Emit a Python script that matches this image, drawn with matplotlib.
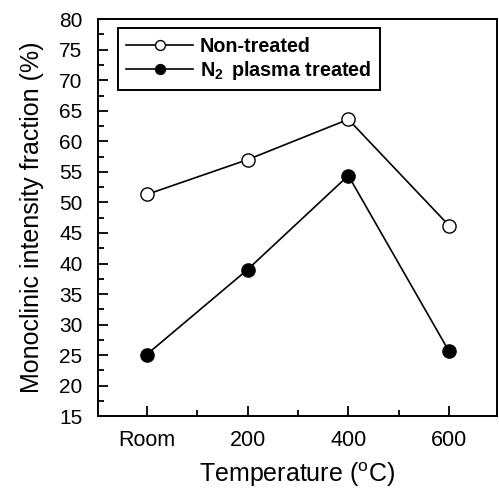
import matplotlib.pyplot as plt
from matplotlib.ticker import MultipleLocator

temps = [0, 200, 400, 600]
temp_labels = ["Room", "200", "400", "600"]

non_treated = [51.3, 57.0, 63.6, 46.2]
n2_treated = [25.1, 39.0, 54.4, 25.6]

plt.rcParams["font.family"] = ["Liberation Sans", "DejaVu Sans"]
plt.rcParams["mathtext.fontset"] = "custom"
plt.rcParams["mathtext.rm"] = "Liberation Sans"
plt.rcParams["mathtext.bf"] = "Liberation Sans:bold"

fig = plt.figure(figsize=(4.99, 4.92), dpi=100)
ax = fig.add_axes([0.196, 0.154, 0.8, 0.807])

ax.plot(temps, non_treated, "-o", color="black", mfc="white", mec="black",
        ms=9.5, lw=1.2, mew=1.0, label="Non-treated")
ax.plot(temps, n2_treated, "-o", color="black", mfc="black", mec="black",
        ms=9.5, lw=1.2, label="N$_\\mathbf{2}\\,$ plasma treated")

ax.set_xlim(-97, 695)
ax.set_ylim(15, 80)
ax.set_xticks(temps)
ax.set_xticklabels(temp_labels)
ax.xaxis.set_minor_locator(MultipleLocator(100))
ax.yaxis.set_major_locator(MultipleLocator(5))
ax.yaxis.set_minor_locator(MultipleLocator(2.5))
ax.tick_params(which="both", direction="in", width=1.3)
ax.tick_params(which="major", length=7)
ax.tick_params(which="minor", length=4)
ax.tick_params(axis="x", labelsize=15.5, pad=10)
ax.tick_params(axis="y", labelsize=15, pad=11)
for s in ax.spines.values():
    s.set_linewidth(1.4)

ax.set_xlabel("Temperature ($^{\\rm o}$C)", fontsize=18, labelpad=7)
ax.set_ylabel("Monoclinic intensity fraction (%)", fontsize=18, labelpad=11)

leg = ax.legend(loc="upper left", bbox_to_anchor=(0.05, 0.977), fancybox=False,
                edgecolor="black", framealpha=1, prop={"size": 14.2, "weight": "bold"},
                handlelength=3.4, borderpad=0.42, labelspacing=0.15, handletextpad=0.35,
                markerscale=0.75, borderaxespad=0)
leg.get_frame().set_linewidth(1.4)

fig.savefig("out.png", dpi=100)
